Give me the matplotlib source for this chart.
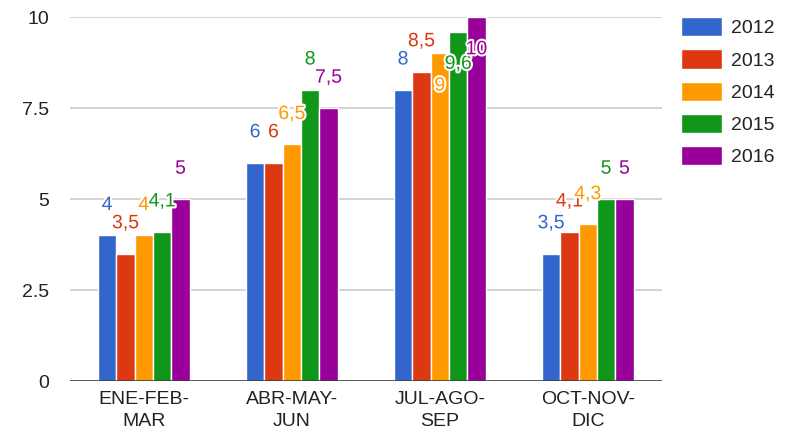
import numpy as np
import matplotlib
matplotlib.use('Agg')
from matplotlib import pyplot as plt
from matplotlib import patheffects as pe

plt.rcParams['font.family'] = ['Liberation Sans', 'DejaVu Sans']

categories = ['ENE-FEB-\nMAR', 'ABR-MAY-\nJUN', 'JUL-AGO-\nSEP', 'OCT-NOV-\nDIC']
years = ['2012', '2013', '2014', '2015', '2016']
v2012 = [4, 6, 8, 3.5]
v2013 = [3.5, 6, 8.5, 4.1]
v2014 = [4, 6.5, 9, 4.3]
v2015 = [4.1, 8, 9.6, 5]
v2016 = [5, 7.5, 10, 5]
series = [v2012, v2013, v2014, v2015, v2016]
colors = ['#3366cc', '#dc3912', '#ff9900', '#109618', '#990099']
yticks = [0, 2.5, 5, 7.5, 10]


def fmt(v):
    return ('%g' % v).replace('.', ',')


fig = plt.figure(figsize=(7.85, 4.42), dpi=100)
ax = fig.add_axes([0.089, 0.138, 0.754, 0.8235])

x = np.arange(len(categories))
step = 0.124
for i, (vals, c, yr) in enumerate(zip(series, colors, years)):
    pos = x + (i - 2) * step
    ax.bar(pos, vals, width=step, color=c, edgecolor='white', linewidth=1.0,
           label=yr, zorder=3)
    for px, v in zip(pos, vals):
        # labels that would pass the top of the plot go inside the bar
        if v + 0.8 > 9.5:
            ty = v - 0.9
        else:
            ty = v + 0.82
        ax.text(px, ty, fmt(v), ha='center', va='center', color=c,
                fontsize=14, zorder=5,
                path_effects=[pe.withStroke(linewidth=3, foreground='white')])

ax.set_xlim(-0.5, 3.5)
ax.set_ylim(0, 10)
ax.set_yticks(yticks)
ax.set_yticklabels(['0', '2.5', '5', '7.5', '10'])
ax.set_xticks(x)
ax.set_xticklabels(categories, linespacing=1.4)
ax.tick_params(axis='both', length=0, labelsize=14, colors='#222222')
ax.tick_params(axis='y', pad=15)
ax.tick_params(axis='x', pad=7)
ax.grid(axis='y', color='#cccccc', linewidth=1.2, zorder=0)
ax.axhline(0, color='#333333', linewidth=1.8, zorder=4)
for s in ax.spines.values():
    s.set_visible(False)

leg = ax.legend(loc='upper left', bbox_to_anchor=(1.033, 1.0), frameon=False,
                fontsize=14, handlelength=2.1, handleheight=1.15,
                labelspacing=0.62, handletextpad=0.45, borderaxespad=0,
                borderpad=0)
for t in leg.get_texts():
    t.set_color('#222222')

fig.savefig('out.png', dpi=100)
